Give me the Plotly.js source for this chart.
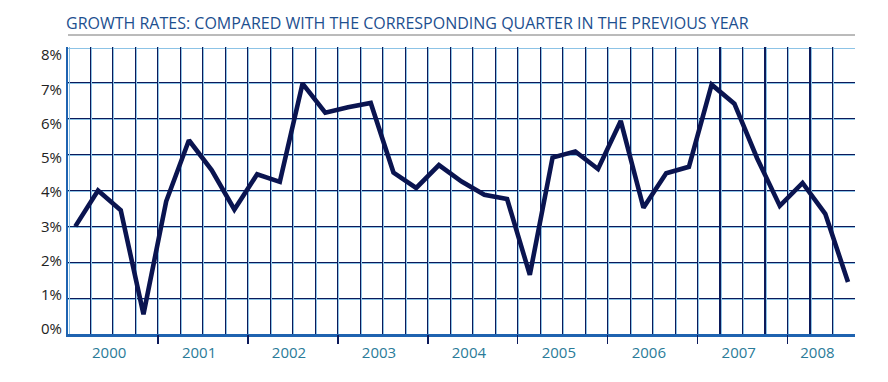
<!DOCTYPE html>
<html>
<head>
<meta charset="utf-8">
<script src="https://cdn.plot.ly/plotly-3.0.1.min.js"></script>
<style>html,body{margin:0;padding:0;background:#fff;}#chart{width:888px;height:382px;}</style>
</head>
<body>
<div id="chart"></div>
<script>
// ---- data ----
const years = ['2000','2001','2002','2003','2004','2005','2006','2007','2008'];
const quarters = [
  '2000Q1','2000Q2','2000Q3','2000Q4',
  '2001Q1','2001Q2','2001Q3','2001Q4',
  '2002Q1','2002Q2','2002Q3','2002Q4',
  '2003Q1','2003Q2','2003Q3','2003Q4',
  '2004Q1','2004Q2','2004Q3','2004Q4',
  '2005Q1','2005Q2','2005Q3','2005Q4',
  '2006Q1','2006Q2','2006Q3','2006Q4',
  '2007Q1','2007Q2','2007Q3','2007Q4',
  '2008Q1','2008Q2','2008Q3'
];
const growth = [
  3.0, 4.0, 3.45, 0.55,
  3.7, 5.4, 4.57, 3.47,
  4.45, 4.24, 6.98, 6.17,
  6.32, 6.44, 4.5, 4.07,
  4.71, 4.25, 3.88, 3.76,
  1.65, 4.92, 5.09, 4.6,
  5.94, 3.52, 4.48, 4.66,
  6.95, 6.42, 4.9, 3.57,
  4.21, 3.35, 1.45
];
const yTickVals = [0,1,2,3,4,5,6,7,8];
const yTickText = ['0%','1%','2%','3%','4%','5%','6%','7%','8%'];
const titleText = 'GROWTH RATES: COMPARED WITH THE CORRESPONDING QUARTER IN THE PREVIOUS YEAR';

// ---- derived helpers ----
const nQ = quarters.length;                       // 35 quarters
const qIndex = quarters.map((_, i) => i);
const gridVals = Array.from({length: nQ + 1}, (_, i) => i);
const yearStarts = years.map((_, i) => i * 4).filter(v => v > 0 && v < nQ);
const yearCenters = years.map((_, i) => {
  const s = i * 4, e = Math.min(s + 4, nQ);
  return (s + e) / 2;
});

const NAVY = '#0c1a5a';
const LIGHT = '#8cc3e6';
const BLUE = '#1f63b0';
const FONT = '"Open Sans", Roboto, sans-serif';

const dummy = (xa, ya) => ({x: [], y: [], xaxis: xa, yaxis: ya, type: 'scatter', mode: 'lines', showlegend: false, hoverinfo: 'skip'});

const traces = [
  dummy('x3', 'y'),
  dummy('x', 'y2'),
  dummy('x2', 'y'),
  dummy('x4', 'y'),
  dummy('x5', 'y'),
  dummy('x', 'y3'),
  {
    x: qIndex, y: growth, text: quarters,
    type: 'scatter', mode: 'lines',
    xaxis: 'x', yaxis: 'y',
    line: {color: '#0a1450', width: 4.6},
    showlegend: false, hoverinfo: 'text+y'
  }
];

const layout = {
  width: 888, height: 382,
  margin: {l: 68, r: 33, t: 47, b: 48, pad: 0},
  paper_bgcolor: '#ffffff', plot_bgcolor: '#ffffff',
  showlegend: false,
  font: {family: FONT, size: 14, color: '#222'},
  title: {
    text: titleText,
    x: 66 / 888, xref: 'container', xanchor: 'left',
    y: 1 - 23 / 382, yref: 'container', yanchor: 'middle',
    font: {family: FONT, size: 16, color: '#1d4f8f'}
  },
  xaxis: {
    range: [-0.321, 34.308], showgrid: false, zeroline: false,
    showticklabels: false, ticks: '',
    showline: true, linecolor: BLUE, linewidth: 2.5
  },
  xaxis2: {
    overlaying: 'x', anchor: 'y', range: [0, nQ],
    tickmode: 'array', tickvals: gridVals, showgrid: true,
    gridcolor: NAVY, gridwidth: 1.2, zeroline: false,
    showticklabels: false, ticks: '', showline: false
  },
  xaxis3: {
    overlaying: 'x', anchor: 'y', range: [-0.045, nQ - 0.045],
    tickmode: 'array', tickvals: gridVals, showgrid: true,
    gridcolor: LIGHT, gridwidth: 1, zeroline: false,
    showticklabels: false, ticks: '', showline: false
  },
  xaxis4: {
    overlaying: 'x', anchor: 'y', range: [0, nQ],
    tickmode: 'array', tickvals: yearStarts, showgrid: false, zeroline: false,
    showticklabels: false, ticks: 'outside', ticklen: 9, tickwidth: 1.5,
    tickcolor: NAVY, showline: false
  },
  xaxis5: {
    overlaying: 'x', anchor: 'y', range: [0.17, nQ + 0.17],
    tickmode: 'array', tickvals: yearCenters, ticktext: years,
    showgrid: false, zeroline: false, ticks: '', showline: false,
    ticklabelstandoff: 8,
    tickfont: {family: FONT, size: 15, color: '#2a7b98'}
  },
  yaxis: {
    range: [0, 8], tickmode: 'array', tickvals: yTickVals,
    showgrid: true, gridcolor: NAVY, gridwidth: 1.2, zeroline: false,
    showticklabels: false, ticks: '',
    showline: true, linecolor: BLUE, linewidth: 2
  },
  yaxis2: {
    overlaying: 'y', anchor: 'x', range: [0.03, 8.03],
    tickmode: 'array', tickvals: yTickVals,
    showgrid: true, gridcolor: LIGHT, gridwidth: 1, zeroline: false,
    showticklabels: false, ticks: '', showline: false
  },
  yaxis3: {
    overlaying: 'y', anchor: 'x', range: [-0.146, 8.234],
    tickmode: 'array', tickvals: yTickVals, ticktext: yTickText,
    showgrid: false, zeroline: false, ticks: '', showline: false,
    ticklabelstandoff: 5,
    tickfont: {family: FONT, size: 15, color: '#222'}
  },
  shapes: [{
    type: 'line', xref: 'paper', yref: 'paper',
    x0: 0, x1: 1, y0: 1 + 12 / 287, y1: 1 + 12 / 287,
    line: {color: '#777', width: 1}
  }]
};

Plotly.newPlot('chart', traces, layout, {displayModeBar: false, staticPlot: true});
</script>
</body>
</html>
